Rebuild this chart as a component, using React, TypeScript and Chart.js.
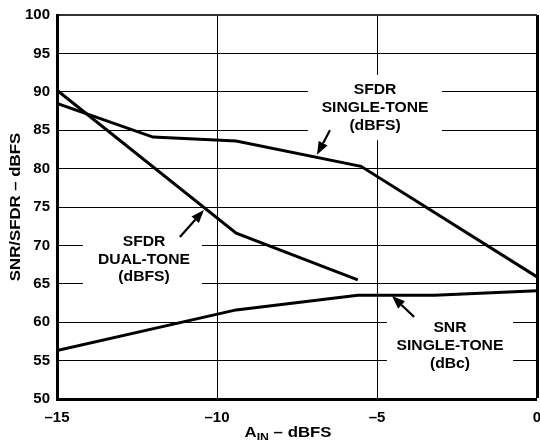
import React, { useEffect, useRef } from "react";
import { Chart, registerables } from "chart.js";

Chart.register(...registerables);

// Data
const sfdrSingleX = [-15, -12, -9.4, -5.5, 0];
const sfdrSingleY = [88.5, 84.1, 83.6, 80.3, 65.9];
const sfdrDualX = [-15, -9.4, -5.6];
const sfdrDualY = [90.2, 71.6, 65.5];
const snrX = [-15, -9.4, -5.6, -3.2, 0];
const snrY = [56.3, 61.6, 63.5, 63.5, 64.1];

const xTicks = [-15, -10, -5, 0];
const yTicks = [50, 55, 60, 65, 70, 75, 80, 85, 90, 95, 100];

const FONT = "Arial, 'Liberation Sans', sans-serif";
const STRETCH = 1.12;

// Annotation labels (data coordinates)
const annotations = [
  {
    lines: ["SFDR", "SINGLE-TONE", "(dBFS)"],
    cx: -5.06,
    lineY: [90.2, 87.9, 85.5],
    box: [-7.16, 92.2, -2.97, 83.7],
    arrow: [-6.47, 85.0, -6.875, 81.8],
  },
  {
    lines: ["SFDR", "DUAL-TONE", "(dBFS)"],
    cx: -12.28,
    lineY: [70.4, 68.1, 65.9],
    box: [-14.19, 72.0, -10.47, 64.2],
    arrow: [-11.16, 71.1, -10.41, 74.6],
  },
  {
    lines: ["SNR", "SINGLE-TONE", "(dBc)"],
    cx: -2.72,
    lineY: [59.2, 56.9, 54.6],
    box: [-4.69, 60.9, -0.75, 53.1],
    arrow: [-3.84, 60.7, -4.53, 63.4],
  },
];

const toPts = (xs: number[], ys: number[]) => xs.map((x, i) => ({ x, y: ys[i] }));

function stretchedText(ctx: CanvasRenderingContext2D, text: string, x: number, y: number) {
  ctx.save();
  ctx.translate(x, y);
  ctx.scale(STRETCH, 1);
  ctx.fillText(text, 0, 0);
  ctx.restore();
}

const annotationPlugin = {
  id: "annot",
  beforeDatasetsDraw(chart: any) {
    const { ctx, scales } = chart;
    const xs = scales.x;
    const ys = scales.y;
    ctx.save();
    ctx.fillStyle = "#ffffff";
    for (const a of annotations) {
      const x1 = xs.getPixelForValue(a.box[0]);
      const y1 = ys.getPixelForValue(a.box[1]);
      const x2 = xs.getPixelForValue(a.box[2]);
      const y2 = ys.getPixelForValue(a.box[3]);
      ctx.fillRect(x1, y1, x2 - x1, y2 - y1);
    }
    ctx.restore();
  },
  afterDatasetsDraw(chart: any) {
    const { ctx, scales } = chart;
    const xs = scales.x;
    const ys = scales.y;
    ctx.save();
    ctx.fillStyle = "#000";
    ctx.strokeStyle = "#000";
    ctx.font = `bold 14px ${FONT}`;
    ctx.textAlign = "center";
    ctx.textBaseline = "middle";
    for (const a of annotations) {
      const cx = xs.getPixelForValue(a.cx);
      a.lines.forEach((t, i) => {
        stretchedText(ctx, t, cx, ys.getPixelForValue(a.lineY[i]));
      });
      // arrow
      const tx = xs.getPixelForValue(a.arrow[0]);
      const ty = ys.getPixelForValue(a.arrow[1]);
      const hx = xs.getPixelForValue(a.arrow[2]);
      const hy = ys.getPixelForValue(a.arrow[3]);
      const ang = Math.atan2(hy - ty, hx - tx);
      const headLen = 13;
      const headW = 5;
      const bx = hx - headLen * Math.cos(ang);
      const by = hy - headLen * Math.sin(ang);
      ctx.lineWidth = 2.2;
      ctx.beginPath();
      ctx.moveTo(tx, ty);
      ctx.lineTo(bx, by);
      ctx.stroke();
      ctx.beginPath();
      ctx.moveTo(hx, hy);
      ctx.lineTo(bx + headW * Math.sin(ang), by - headW * Math.cos(ang));
      ctx.lineTo(bx - headW * Math.sin(ang), by + headW * Math.cos(ang));
      ctx.closePath();
      ctx.fill();
    }
    ctx.restore();
  },
  afterDraw(chart: any) {
    const { ctx, chartArea } = chart;
    ctx.save();
    ctx.fillStyle = "#000";
    // Y title
    ctx.font = `bold 15px ${FONT}`;
    ctx.textAlign = "center";
    ctx.textBaseline = "middle";
    ctx.translate(16, (chartArea.top + chartArea.bottom) / 2);
    ctx.rotate(-Math.PI / 2);
    ctx.scale(STRETCH, 1);
    ctx.fillText("SNR/SFDR – dBFS", 0, 0);
    ctx.restore();

    // X title with subscript
    ctx.save();
    ctx.fillStyle = "#000";
    ctx.textBaseline = "alphabetic";
    ctx.textAlign = "left";
    const big = `bold 15px ${FONT}`;
    const small = `bold 11px ${FONT}`;
    ctx.font = big;
    const wA = ctx.measureText("A").width;
    const wRest = ctx.measureText(" – dBFS").width;
    ctx.font = small;
    const wIN = ctx.measureText("IN").width;
    const total = (wA + wIN + wRest) * STRETCH;
    const cx = (chartArea.left + chartArea.right) / 2 - 9;
    const base = 437;
    ctx.translate(cx - total / 2, base);
    ctx.scale(STRETCH, 1);
    let x = 0;
    ctx.font = big;
    ctx.fillText("A", x, 0);
    x += wA;
    ctx.font = small;
    ctx.fillText("IN", x, 4);
    x += wIN;
    ctx.font = big;
    ctx.fillText(" – dBFS", x, 0);
    ctx.restore();
  },
};

export default function App() {
  const ref = useRef<HTMLCanvasElement | null>(null);

  useEffect(() => {
    if (!ref.current) return;
    const chart = new Chart(ref.current, {
      type: "line",
      data: {
        datasets: [
          {
            label: "SFDR Single-Tone (dBFS)",
            data: toPts(sfdrSingleX, sfdrSingleY),
            borderColor: "#000",
            borderWidth: 3,
            pointRadius: 0,
            tension: 0,
            fill: false,
          },
          {
            label: "SFDR Dual-Tone (dBFS)",
            data: toPts(sfdrDualX, sfdrDualY),
            borderColor: "#000",
            borderWidth: 3,
            pointRadius: 0,
            tension: 0,
            fill: false,
          },
          {
            label: "SNR Single-Tone (dBc)",
            data: toPts(snrX, snrY),
            borderColor: "#000",
            borderWidth: 3,
            pointRadius: 0,
            tension: 0,
            fill: false,
          },
        ],
      },
      options: {
        animation: false,
        responsive: false,
        maintainAspectRatio: false,
        layout: { autoPadding: false, padding: { top: 15, right: 3, left: 0, bottom: 0 } },
        plugins: {
          legend: { display: false },
          tooltip: { enabled: false },
          title: { display: false },
        },
        scales: {
          x: {
            type: "linear",
            min: -15,
            max: 0,
            afterBuildTicks: (s: any) => {
              s.ticks = xTicks.map((v) => ({ value: v }));
            },
            afterFit: (s: any) => {
              s.height = 41;
              s.paddingLeft = 0;
              s.paddingRight = 0;
            },
            ticks: {
              color: "#000",
              font: { family: FONT, size: 15, weight: "bold" },
              padding: 10,
              maxRotation: 0,
              callback: (v: any) => (Number(v) < 0 ? "–" + Math.abs(Number(v)) : String(v)),
            },
            grid: {
              drawTicks: false,
              color: "#000",
              lineWidth: (c: any) =>
                c.tick && c.tick.value === 0 ? 3 : c.tick && c.tick.value === -15 ? 0 : 1,
            },
            border: { color: "#000", width: 3 },
          },
          y: {
            type: "linear",
            min: 50,
            max: 100,
            afterBuildTicks: (s: any) => {
              s.ticks = yTicks.map((v) => ({ value: v }));
            },
            afterFit: (s: any) => {
              s.width = 57;
              s.paddingTop = 0;
              s.paddingBottom = 0;
            },
            ticks: {
              color: "#000",
              font: { family: FONT, size: 15, weight: "bold" },
              padding: 7,
            },
            grid: {
              drawTicks: false,
              color: (c: any) => (c.tick && c.tick.value === 100 ? "#333" : "#000"),
              lineWidth: (c: any) =>
                c.tick && c.tick.value === 100 ? 2 : c.tick && c.tick.value === 50 ? 0 : 1,
            },
            border: { color: "#000", width: 3 },
          },
        },
      },
      plugins: [annotationPlugin],
    } as any);
    return () => chart.destroy();
  }, []);

  return (
    <div style={{ position: "fixed", left: 0, top: 0, width: 540, height: 440, background: "#fff" }}>
      <canvas ref={ref} width={540} height={440} style={{ width: 540, height: 440, display: "block" }} />
    </div>
  );
}
